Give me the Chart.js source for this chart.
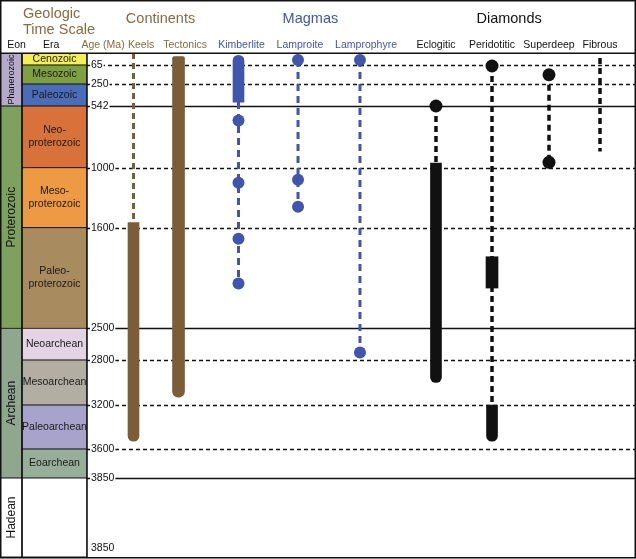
<!DOCTYPE html>
<html>
<head>
<meta charset="utf-8">
<script src="https://cdn.jsdelivr.net/npm/chart.js@4.4.1/dist/chart.umd.min.js"></script>
<style>
  html, body { margin: 0; padding: 0; background: #fff; }
  #grafico { display: block; }
</style>
</head>
<body>
<canvas id="grafico" width="636" height="559"></canvas>
<script>
// columns on the x axis (x value = index)
const colunas = ["Eon", "Era", "Age (Ma)", "Keels", "Tectonics", "Kimberlite", "Lamproite", "Lamprophyre", "Eclogitic", "Peridotitic", "Superdeep", "Fibrous"];

// geologic time scale (Ma)
const eonNomes = ["Phanerozoic", "Proterozoic", "Archean", "Hadean"];
const eonLimites = [0, 542, 2500, 3850, 4600];
const eraNomes = ["Cenozoic", "Mesozoic", "Paleozoic", "Neo-\nproterozoic", "Meso-\nproterozoic", "Paleo-\nproterozoic", "Neoarchean", "Mesoarchean", "Paleoarchean", "Eoarchean", ""];
const eraLimites = [0, 65, 250, 542, 1000, 1600, 2500, 2800, 3200, 3600, 3850, 4600];
const idadeTicks = [65, 250, 542, 1000, 1600, 2500, 2800, 3200, 3600, 3850];
const ticksSolidos = [542, 2500, 3850];
const rotuloFinal = "3850";

// Continents
const keelsTracejado = [0, 1550];
const keelsSolido = [1550, 3530];
const tectonicsSolido = [20, 3130];

// Magmas
const kimberliteSolido = [12, 490];
const kimberliteTracejado = [490, 2100];
const kimberlitePontos = [650, 1150, 1700, 2100];
const lamproiteTracejado = [38, 1390];
const lamproitePontos = [38, 1120, 1390];
const lamprophyreTracejado = [38, 2730];
const lamprophyrePontos = [38, 2730];

// Diamonds
const eclogiticPontos = [542];
const eclogiticTracejado = [542, 965];
const eclogiticSolido = [965, 3000];
const peridotiticPontos = [75];
const peridotiticTracejado = [75, 3200];
const peridotiticBloco = [1860, 2140];
const peridotiticSolido = [3200, 3530];
const superdeepPontos = [160, 960];
const superdeepTracejado = [160, 960];
const fibrousTracejado = [27, 880];

// colours
const MARROM = "#7b5e37";
const MARROM_TXT = "#8a6a3d";
const AZUL = "#3f55ae";
const PRETO = "#111111";
const eonCores = ["#b5aacb", "#7ea15f", "#8fa68f", "#ffffff"];
const eraCores = ["#f5ee55", "#7ea043", "#4b6cb8", "#d8723a", "#ee9a45", "#a88b5e", "#e4d2e5", "#b2aea2", "#a7a3cb", "#97ae98", "#ffffff"];

const FONTE = "'Liberation Sans', Arial, sans-serif";

// piecewise linear scale (geologic charts are not drawn to a uniform scale)
class EscalaPorPartes extends Chart.LinearScale {
  fracao(v) {
    const vs = this.options.paradas, fs = this.options.fracoes;
    if (v <= vs[0]) return fs[0];
    for (let i = 1; i < vs.length; i++) {
      if (v <= vs[i]) return fs[i - 1] + (v - vs[i - 1]) / (vs[i] - vs[i - 1]) * (fs[i] - fs[i - 1]);
    }
    return fs[fs.length - 1];
  }
  getPixelForValue(v) {
    const f = this.fracao(v);
    return this.isHorizontal() ? this.left + f * this.width : this.top + f * this.height;
  }
  getValueForPixel(p) {
    const f = this.isHorizontal() ? (p - this.left) / this.width : (p - this.top) / this.height;
    const vs = this.options.paradas, fs = this.options.fracoes;
    for (let i = 1; i < fs.length; i++) {
      if (f <= fs[i]) return vs[i - 1] + (f - fs[i - 1]) / (fs[i] - fs[i - 1]) * (vs[i] - vs[i - 1]);
    }
    return vs[vs.length - 1];
  }
}
EscalaPorPartes.id = "porpartes";
EscalaPorPartes.defaults = {};
Chart.register(EscalaPorPartes);

function col(nome) { return colunas.indexOf(nome); }

function tracejado(nome, faixa, cor, traco, largura) {
  return {
    type: "line",
    data: faixa.map(v => ({ x: col(nome), y: v })),
    borderColor: cor, borderWidth: largura, borderDash: traco,
    borderCapStyle: "butt", pointRadius: 0, fill: false, tension: 0
  };
}

function pontos(nome, valores, cor, raio) {
  return {
    type: "scatter",
    data: valores.map(v => ({ x: col(nome), y: v })),
    backgroundColor: cor, borderWidth: 0, pointRadius: raio, pointHoverRadius: raio
  };
}

function barra(nome, faixa, cor, espessura, cantos) {
  return {
    type: "bar",
    data: [{ x: col(nome), y: faixa }],
    backgroundColor: cor, borderWidth: 0, borderSkipped: false,
    borderRadius: cantos, barThickness: espessura, grouped: false
  };
}

const fundo = (r) => ({ topLeft: 0, topRight: 0, bottomLeft: r, bottomRight: r });
const topo = (r) => ({ topLeft: r, topRight: r, bottomLeft: 0, bottomRight: 0 });
const reto = { topLeft: 0, topRight: 0, bottomLeft: 0, bottomRight: 0 };

const datasets = [
  // dots
  pontos("Kimberlite", kimberlitePontos, AZUL, 6),
  pontos("Lamproite", lamproitePontos, AZUL, 6),
  pontos("Lamprophyre", lamprophyrePontos, AZUL, 6),
  pontos("Eclogitic", eclogiticPontos, PRETO, 6.5),
  pontos("Peridotitic", peridotiticPontos, PRETO, 6.5),
  pontos("Superdeep", superdeepPontos, PRETO, 6.5),
  // solid ranges
  barra("Keels", keelsSolido, MARROM, 11, fundo(6)),
  barra("Tectonics", tectonicsSolido, MARROM, 12, { topLeft: 2, topRight: 2, bottomLeft: 6, bottomRight: 6 }),
  barra("Kimberlite", kimberliteSolido, AZUL, 11, topo(6)),
  barra("Eclogitic", eclogiticSolido, PRETO, 11, fundo(6)),
  barra("Peridotitic", peridotiticBloco, PRETO, 12, reto),
  barra("Peridotitic", peridotiticSolido, PRETO, 11, fundo(6)),
  // dashed ranges
  tracejado("Keels", keelsTracejado, MARROM, [6, 4], 3),
  tracejado("Kimberlite", kimberliteTracejado, AZUL, [7, 5], 3),
  tracejado("Lamproite", lamproiteTracejado, AZUL, [7, 5], 3),
  tracejado("Lamprophyre", lamprophyreTracejado, AZUL, [7, 5], 3),
  tracejado("Eclogitic", eclogiticTracejado, PRETO, [6, 4], 3.5),
  tracejado("Peridotitic", peridotiticTracejado, PRETO, [6, 4], 3.5),
  tracejado("Superdeep", superdeepTracejado, PRETO, [6, 4], 3.5),
  tracejado("Fibrous", fibrousTracejado, PRETO, [6, 4], 3.5),
  // time scale boxes
  {
    type: "bar",
    data: eraNomes.map((n, i) => ({ x: col("Era"), y: [eraLimites[i], eraLimites[i + 1]] })),
    backgroundColor: eraCores, borderColor: PRETO, borderWidth: 0.8,
    borderSkipped: false, barThickness: 65, grouped: false
  },
  {
    type: "bar",
    data: eonNomes.map((n, i) => ({ x: col("Eon"), y: [eonLimites[i], eonLimites[i + 1]] })),
    backgroundColor: eonCores, borderColor: PRETO, borderWidth: 0.8,
    borderSkipped: false, barThickness: 22, grouped: false
  }
];

// header texts
const titulos = [
  { texto: "Continents", x: 3.6, cor: MARROM_TXT },
  { texto: "Magmas", x: 6.2, cor: AZUL },
  { texto: "Diamonds", x: 9.3, cor: PRETO }
];
const posRotulos = [0.25, 0.95, 2, 3.17, 4.11, 5.05, 6.03, 7.08, 8, 9, 10, 11];
const corRotulos = [PRETO, PRETO, MARROM_TXT, MARROM_TXT, MARROM_TXT, AZUL, AZUL, AZUL, PRETO, PRETO, PRETO, PRETO];

const desenho = {
  id: "desenho",
  beforeDatasetsDraw(chart) {
    const { ctx, chartArea, scales: { x, y } } = chart;
    const x0 = x.getPixelForValue(1.5);
    ctx.save();
    ctx.strokeStyle = PRETO;
    idadeTicks.forEach(t => {
      const solido = ticksSolidos.includes(t);
      const py = Math.round(y.getPixelForValue(t)) + 0.5;
      ctx.setLineDash(solido ? [] : [4, 3]);
      ctx.lineWidth = solido ? 1.5 : 1.3;
      ctx.beginPath();
      ctx.moveTo(x0, py);
      ctx.lineTo(chartArea.right, py);
      ctx.stroke();
    });
    ctx.restore();
  },
  afterDatasetsDraw(chart) {
    const { ctx, chartArea, scales: { x, y } } = chart;
    ctx.save();
    ctx.setLineDash([]);

    // age labels
    const xr = x.getPixelForValue(1.5) + 4;
    ctx.font = "10.5px " + FONTE;
    ctx.textBaseline = "middle";
    ctx.textAlign = "left";
    const rotulo = (txt, py) => {
      const w = ctx.measureText(txt).width;
      ctx.fillStyle = "#fff";
      ctx.fillRect(xr - 1, py - 6, w + 2, 12);
      ctx.fillStyle = PRETO;
      ctx.fillText(txt, xr, py);
    };
    idadeTicks.forEach(t => rotulo(String(t), y.getPixelForValue(t)));
    rotulo(rotuloFinal, chartArea.bottom - 9);

    // era names
    ctx.textAlign = "center";
    ctx.fillStyle = "#1a1a1a";
    const xe = x.getPixelForValue(col("Era"));
    eraNomes.forEach((n, i) => {
      if (!n) return;
      const linhas = n.split("\n");
      const yc = (y.getPixelForValue(eraLimites[i]) + y.getPixelForValue(eraLimites[i + 1])) / 2;
      linhas.forEach((l, k) => ctx.fillText(l, xe, yc + (k - (linhas.length - 1) / 2) * 13));
    });

    // eon names (vertical)
    const xo = x.getPixelForValue(col("Eon"));
    eonNomes.forEach((n, i) => {
      const yc = (y.getPixelForValue(eonLimites[i]) + y.getPixelForValue(eonLimites[i + 1])) / 2;
      ctx.save();
      ctx.translate(xo + 0.5, yc);
      ctx.rotate(-Math.PI / 2);
      ctx.font = (i === 0 ? "9px " : "12px ") + FONTE;
      ctx.fillStyle = PRETO;
      ctx.fillText(n, 0, 0);
      ctx.restore();
    });

    // column separators, header line and frame
    ctx.strokeStyle = PRETO;
    ctx.lineWidth = 1.5;
    [0.5, 1.5].forEach(v => {
      const px = Math.round(x.getPixelForValue(v));
      ctx.beginPath();
      ctx.moveTo(px, chartArea.top);
      ctx.lineTo(px, chartArea.bottom);
      ctx.stroke();
    });
    ctx.beginPath();
    ctx.moveTo(0, chartArea.top + 0.25);
    ctx.lineTo(chart.width, chartArea.top + 0.25);
    ctx.stroke();
    ctx.strokeRect(0.75, 0.75, chart.width - 1.5, chartArea.bottom);

    // header
    ctx.textBaseline = "alphabetic";
    ctx.font = "14.5px " + FONTE;
    ctx.textAlign = "left";
    ctx.fillStyle = MARROM_TXT;
    ctx.fillText("Geologic", 23, 18);
    ctx.fillText("Time Scale", 23, 34);
    ctx.textAlign = "center";
    titulos.forEach(t => {
      ctx.fillStyle = t.cor;
      ctx.fillText(t.texto, x.getPixelForValue(t.x), 23);
    });
    ctx.font = "10.5px " + FONTE;
    colunas.forEach((c, i) => {
      ctx.fillStyle = corRotulos[i];
      ctx.fillText(c, x.getPixelForValue(posRotulos[i]), 48);
    });
    ctx.restore();
  }
};

const ctx = document.getElementById("grafico").getContext("2d");
new Chart(ctx, {
  type: "bar",
  data: { datasets },
  options: {
    responsive: false,
    animation: false,
    events: [],
    layout: { autoPadding: false, padding: { top: 53, left: 0, right: 0, bottom: 2 } },
    plugins: { legend: { display: false }, tooltip: { enabled: false } },
    scales: {
      x: {
        type: "porpartes", display: false, min: -0.5, max: 11.5,
        paradas: [-0.5, 0.5, 1.5, 2, 3, 4, 5, 6, 7, 8, 9, 10, 11, 11.5],
        fracoes: [0, 0.0346, 0.1368, 0.162, 0.2099, 0.2807, 0.375, 0.4686, 0.566, 0.6855, 0.7736, 0.8632, 0.9434, 1]
      },
      y: {
        type: "porpartes", display: false, min: 0, max: 4600,
        paradas: eraLimites,
        fracoes: [0, 0.0238, 0.0615, 0.1052, 0.2276, 0.3466, 0.5462, 0.6091, 0.6984, 0.7857, 0.8433, 1]
      }
    }
  },
  plugins: [desenho]
});
</script>
</body>
</html>
